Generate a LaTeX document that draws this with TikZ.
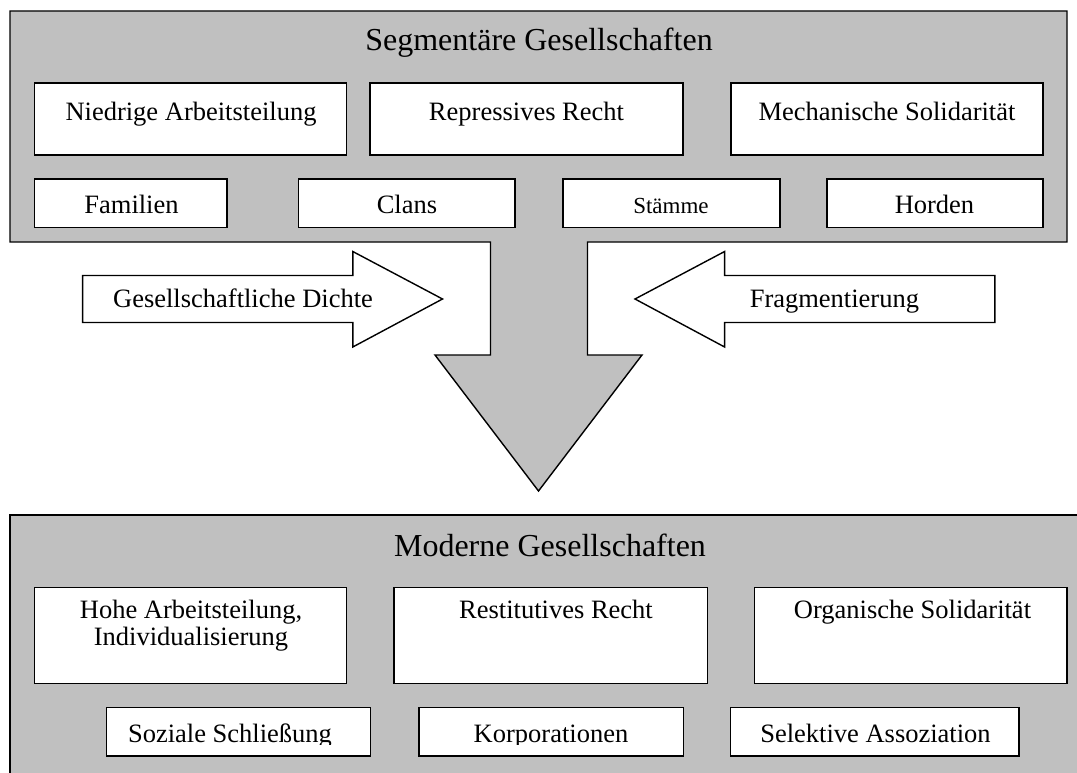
\documentclass[tikz,border=0pt]{standalone}
\usepackage{fontspec}
\setmainfont{Liberation Serif}
\definecolor{panelgray}{HTML}{C0C0C0}
\newcommand\titlesize{\fontsize{32}{36}\selectfont}
\newcommand\boxsize{\fontsize{26.5}{30}\selectfont}
\newcommand\smallsize{\fontsize{23}{27}\selectfont}
\tikzset{
  outline/.style={draw=black, line width=1.4pt, line join=miter},
  panel/.style={outline, fill=panelgray},
  whitebox/.style={outline, fill=white, inner sep=0pt, outer sep=0pt},
  lbl/.style={anchor=base, inner sep=0pt, font=\boxsize},
  ttl/.style={anchor=base, inner sep=0pt, font=\titlesize},
}
\begin{document}
\begin{tikzpicture}[x=1pt, y=-1pt]
\clip (0,0) rectangle (1077,773);
\fill[white] (0,0) rectangle (1077,773);

% upper panel with the downward arrow
\draw[panel] (10,11) -- (1067,11) -- (1067,242) -- (587.5,242) -- (587.5,355)
  -- (642,355) -- (538.5,491) -- (435,355) -- (490.5,355) -- (490.5,242)
  -- (10,242) -- cycle;
\node[ttl] (segtitle) at (539,51) {Segmentäre Gesellschaften};

\node[whitebox, minimum width=312pt, minimum height=72pt] (niedrig) at (190.5,119) {};
\node[whitebox, minimum width=313pt, minimum height=72pt] (repress) at (526.5,119) {};
\node[whitebox, minimum width=312pt, minimum height=72pt] (mechan) at (887,119) {};
\node[lbl] (niedrigT) at (191,121) {Niedrige Arbeitsteilung};
\node[lbl] (repressT) at (526.5,121) {Repressives Recht};
\node[lbl] (mechanT) at (887,121) {Mechanische Solidarität};

\node[whitebox, minimum width=192.5pt, minimum height=48.5pt] (familien) at (130.75,203.25) {};
\node[whitebox, minimum width=216.5pt, minimum height=48.5pt] (clans) at (406.75,203.25) {};
\node[whitebox, minimum width=217pt, minimum height=48.5pt] (staemme) at (671.5,203.25) {};
\node[whitebox, minimum width=216pt, minimum height=48.5pt] (horden) at (935,203.25) {};
\node[lbl] (familienT) at (131.5,214) {Familien};
\node[lbl] (clansT) at (407,214) {Clans};
\node[lbl, font=\smallsize] (staemmeT) at (671,213) {Stämme};
\node[lbl] (hordenT) at (934.5,214) {Horden};

% side arrows
\draw[outline, fill=white] (82.6,275.5) -- (352.8,275.5) -- (352.8,251.5) -- (442.5,299)
  -- (352.8,347) -- (352.8,322.5) -- (82.6,322.5) -- cycle;
\node[lbl] (dichte) at (243,307) {Gesellschaftliche Dichte};
\draw[outline, fill=white] (994.8,275.5) -- (724.6,275.5) -- (724.6,251.5) -- (635,299)
  -- (724.6,347) -- (724.6,322.5) -- (994.8,322.5) -- cycle;
\node[lbl] (fragment) at (834.4,307) {Fragmentierung};

% lower panel
\draw[panel] (10,515) rectangle (1095,800);
\node[ttl] (modtitle) at (550,556) {Moderne Gesellschaften};

\node[whitebox, minimum width=312pt, minimum height=95.5pt] (hohe) at (190.5,635.5) {};
\node[whitebox, minimum width=313.5pt, minimum height=95.5pt] (restit) at (550.75,635.5) {};
\node[whitebox, minimum width=312.5pt, minimum height=95.5pt] (organ) at (910.75,635.5) {};
\node[lbl] (hoheA) at (191,618) {Hohe Arbeitsteilung,};
\node[lbl] (hoheB) at (191,645) {Individualisierung};
\node[lbl] (restitT) at (556,618) {Restitutives Recht};
\node[lbl] (organT) at (912.5,618) {Organische Solidarität};

\node[whitebox, minimum width=264pt, minimum height=48.5pt] (soziale) at (238.5,731.75) {};
\node[whitebox, minimum width=264.5pt, minimum height=48.5pt] (korpor) at (551.25,731.75) {};
\node[whitebox, minimum width=288.5pt, minimum height=48.5pt] (selekt) at (874.75,731.75) {};
\begin{scope}
  \clip (0,0) rectangle (1077,744);
  \node[lbl] (sozialeT) at (230,742) {Soziale Schließung};
  \node[lbl] (korporT) at (551,742) {Korporationen};
  \node[lbl] (selektT) at (875.5,742) {Selektive Assoziation};
\end{scope}
\end{tikzpicture}
\end{document}
